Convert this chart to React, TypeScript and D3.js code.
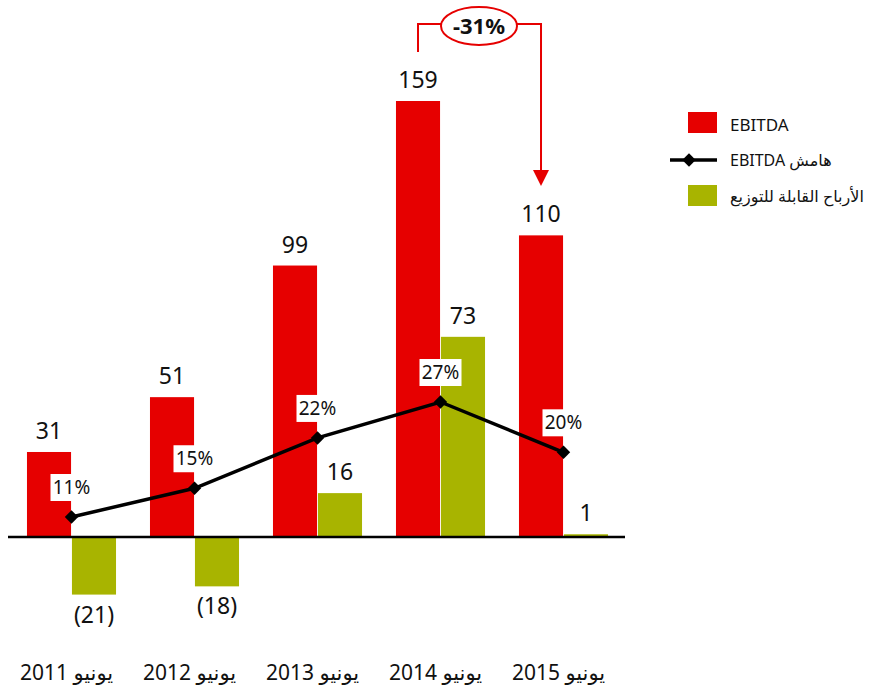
import React from 'react';
import * as d3 from 'd3';

const years = ['2011', '2012', '2013', '2014', '2015'];
const yearLabels = ['يونيو 2011', 'يونيو 2012', 'يونيو 2013', 'يونيو 2014', 'يونيو 2015'];
const ebitda = [31, 51, 99, 159, 110];
const distributable = [-21, -18, 16, 73, 1];
const margin = [11, 15, 22, 27, 20];
const changeLabel = '-31%';

const RED = '#e60000';
const GREEN = '#a8b400';
const FONT = "'Noto Sans', 'DejaVu Sans', sans-serif";

const App = () => {
  // group scale and the two bars inside each group
  const x0 = d3.scaleBand<string>().domain(years).range([10, 625]).paddingInner(0.276).paddingOuter(0.138);
  const x1 = d3.scaleBand<string>().domain(['ebitda', 'dist']).range([0, x0.bandwidth()]).paddingInner(0.02);

  // value scale for bars
  const y = d3.scaleLinear().domain([0, 159]).range([537, 101]);
  // separate scale for the margin line
  const yM = d3.scaleLinear().domain([11, 27]).range([517, 402]);

  const cx = (i: number) => x0(years[i])! + x0.bandwidth() / 2;

  const line = d3.line<number>()
    .x((d, i) => cx(i))
    .y(d => yM(d));

  const diamond = d3.symbol().type(d3.symbolSquare).size(90)();

  const leftX = x0('2014')! + x1('ebitda')! + x1.bandwidth() / 2;
  const rightX = x0('2015')! + x1('ebitda')! + x1.bandwidth() / 2;

  return (
    <div style={{ position: 'absolute', left: 0, top: 0 }}>
      <svg width={870} height={688} style={{ display: 'block', fontFamily: FONT }}>
        <rect width={870} height={688} fill="#fff" />

        {/* EBITDA bars */}
        {ebitda.map((v, i) => (
          <g key={'e' + i}>
            <rect x={x0(years[i])! + x1('ebitda')!} y={y(v)} width={x1.bandwidth()} height={y(0) - y(v)} fill={RED} />
            <text x={x0(years[i])! + x1('ebitda')! + x1.bandwidth() / 2} y={y(v) - 13} textAnchor="middle" fontSize={23} fill="#111">{v}</text>
          </g>
        ))}

        {/* distributable profit bars */}
        {distributable.map((v, i) => {
          const bx = x0(years[i])! + x1('dist')!;
          const top = Math.min(y(v), y(0));
          const h = Math.abs(y(v) - y(0));
          const label = v < 0 ? `(${-v})` : `${v}`;
          return (
            <g key={'d' + i}>
              <rect x={bx} y={top} width={x1.bandwidth()} height={h} fill={GREEN} />
              <text x={bx + x1.bandwidth() / 2} y={v < 0 ? y(v) + 28 : y(v) - 13} textAnchor="middle" fontSize={23} fill="#111">{label}</text>
            </g>
          );
        })}

        {/* baseline */}
        <line x1={8} x2={625} y1={y(0)} y2={y(0)} stroke="#000" strokeWidth={2.5} />

        {/* margin line */}
        <path d={line(margin)!} fill="none" stroke="#000" strokeWidth={3.5} />
        {margin.map((m, i) => (
          <g key={'m' + i}>
            <path d={diamond} transform={`translate(${cx(i)},${yM(m)}) rotate(45)`} fill="#000" />
            <rect x={cx(i) - 21} y={yM(m) - 43} width={42} height={27} fill="#fff" />
            <text x={cx(i)} y={yM(m) - 23} textAnchor="middle" fontSize={19} fill="#111">{m}%</text>
          </g>
        ))}

        {/* -31% annotation */}
        <g stroke={RED} strokeWidth={2} fill="none">
          <path d={`M${leftX},52 V24 H441`} />
          <path d={`M517,24 H${rightX} V172`} />
          <ellipse cx={479} cy={26} rx={38} ry={19} />
        </g>
        <path d={`M${rightX - 8},170 L${rightX + 8},170 L${rightX},186 Z`} fill={RED} />
        <text x={479} y={34} textAnchor="middle" fontSize={22} fontWeight="bold" fill="#111">{changeLabel}</text>

        {/* x labels */}
        {yearLabels.map((t, i) => (
          <text key={'x' + i} x={cx(i) - 5} y={680} textAnchor="middle" fontSize={21} fill="#111"
            style={{ direction: 'rtl', unicodeBidi: 'embed' }}>{t}</text>
        ))}

        {/* legend */}
        <rect x={688} y={112} width={29} height={21} fill={RED} />
        <text x={730} y={131} fontSize={17} fill="#111">EBITDA</text>

        <line x1={670} x2={717} y1={160} y2={160} stroke="#000" strokeWidth={3.5} />
        <path d={diamond} transform={`translate(689,160) rotate(45)`} fill="#000" />
        <text x={730} y={166} fontSize={16} fill="#111" textAnchor="end" style={{ direction: 'rtl', unicodeBidi: 'embed' }}>هامش EBITDA</text>

        <rect x={688} y={185} width={29} height={21} fill={GREEN} />
        <text x={730} y={202} fontSize={16} fill="#111" textAnchor="end" style={{ direction: 'rtl', unicodeBidi: 'embed' }}>الأرباح القابلة للتوزيع</text>
      </svg>
    </div>
  );
};

export default App;
